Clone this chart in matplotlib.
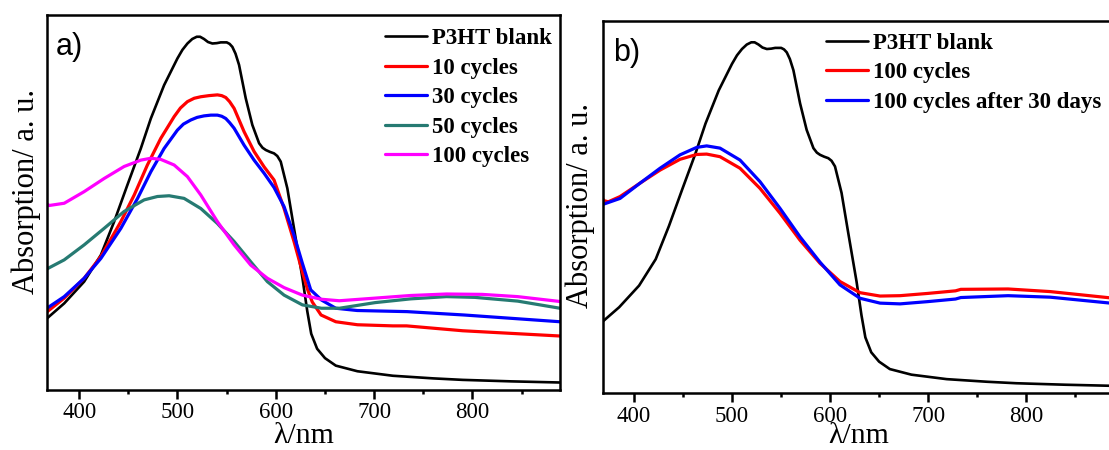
import matplotlib
matplotlib.use("Agg")
import matplotlib.pyplot as plt
from matplotlib.ticker import MultipleLocator
from matplotlib.font_manager import FontProperties

# ---- spectra (wavelength in nm, absorption in arbitrary units) ----
wl_blank = [367, 369.5, 384.8, 405.1, 422.1, 435.6, 449.1, 462.7, 472.9, 486.4, 499.9,
            505, 510.1, 515, 519.6, 523, 527, 531, 535.5, 540, 544, 550.1, 553, 555.8,
            559, 562.6, 569.4, 576.1, 583, 586.5, 589.8, 594, 598.2, 601.5, 605, 611.7,
            618.5, 627, 632, 636, 642, 650, 661, 683, 719, 760, 790, 840, 889]
abs_blank = [0.19, 0.196, 0.231, 0.289, 0.36, 0.449, 0.547, 0.644, 0.724, 0.813, 0.884,
             0.907, 0.924, 0.936, 0.942, 0.942, 0.936, 0.928, 0.924, 0.925, 0.927, 0.927,
             0.923, 0.915, 0.897, 0.867, 0.778, 0.707, 0.658, 0.646, 0.64, 0.635, 0.631,
             0.624, 0.609, 0.538, 0.431, 0.30, 0.21, 0.15, 0.11, 0.085, 0.065, 0.05,
             0.038, 0.031, 0.027, 0.023, 0.020]

wl_10 = [367, 369.5, 384.8, 405.1, 422.1, 442.4, 456, 469.4, 483, 496.6, 503, 510.1, 517,
         523.7, 532, 540.6, 545, 549.1, 553, 557.6, 567.7, 577.9, 588.1, 598.2, 608.4,
         618.5, 627, 632, 637, 646, 661, 683, 719, 733, 790, 889]
abs_10 = [0.208, 0.213, 0.245, 0.298, 0.356, 0.449, 0.52, 0.60, 0.671, 0.729, 0.752, 0.769,
          0.778, 0.782, 0.785, 0.787, 0.785, 0.78, 0.769, 0.751, 0.689, 0.636, 0.595, 0.56,
          0.484, 0.396, 0.315, 0.27, 0.235, 0.2, 0.182, 0.174, 0.171, 0.171, 0.158, 0.144]

wl_30 = [367, 369.5, 384.8, 405.1, 422.1, 442.4, 459.4, 472.9, 486.4, 499.9, 506, 513.5,
         520, 527, 534, 540.6, 545, 549.1, 553, 557.6, 567.7, 577.9, 588.1, 598.2, 608.4,
         618.5, 627, 635.5, 646.4, 661, 682.7, 733.5, 791.6, 889]
abs_30 = [0.218, 0.222, 0.249, 0.298, 0.351, 0.431, 0.511, 0.582, 0.644, 0.693, 0.709, 0.72,
          0.727, 0.731, 0.733, 0.733, 0.73, 0.724, 0.713, 0.698, 0.653, 0.613, 0.578, 0.54,
          0.489, 0.413, 0.338, 0.267, 0.24, 0.218, 0.212, 0.209, 0.2, 0.182]

wl_50 = [367, 369.5, 384.8, 405.1, 425.4, 445.7, 466.1, 479.6, 491.5, 506.7, 523.7, 540.6,
         557.6, 574.5, 591.4, 608.4, 627, 646.4, 664.6, 700.9, 737, 773.5, 802.5, 846, 889]
abs_50 = [0.322, 0.326, 0.347, 0.387, 0.431, 0.476, 0.507, 0.516, 0.518, 0.511, 0.484, 0.444,
          0.396, 0.342, 0.289, 0.253, 0.227, 0.218, 0.218, 0.233, 0.243, 0.249, 0.247, 0.237,
          0.218]

wl_100 = [367, 369.5, 384.8, 405.1, 425.4, 445.7, 462.7, 472.9, 483, 496.6, 510.1, 523.7,
          540.6, 557.6, 574.5, 591.4, 608.4, 627, 646.4, 664.6, 700.9, 737, 773.5, 809.8,
          846, 889]
abs_100 = [0.497, 0.492, 0.498, 0.529, 0.564, 0.596, 0.613, 0.618, 0.615, 0.6, 0.569, 0.52,
           0.449, 0.387, 0.333, 0.298, 0.273, 0.253, 0.242, 0.238, 0.245, 0.252, 0.256, 0.255,
           0.249, 0.236]

wl_100b = [368, 369.3, 373.7, 385.7, 406.1, 426.5, 446.9, 463.9, 474.1, 487.7, 508.1, 528.5,
           549, 569.3, 589.7, 610.1, 630.6, 651, 671.4, 699.4, 728, 733.4, 781.6, 824.5, 890]
abs_100b = [0.522, 0.517, 0.514, 0.528, 0.564, 0.599, 0.628, 0.641, 0.642, 0.635, 0.604, 0.55,
            0.483, 0.411, 0.349, 0.3, 0.27, 0.261, 0.262, 0.268, 0.275, 0.279, 0.28, 0.273,
            0.255]

wl_100_30d = [368, 369.3, 385.7, 406.1, 426.5, 446.9, 463.9, 474.1, 487.7, 508.1, 528.5, 549,
              569.3, 589.7, 610.1, 630.6, 651, 671.4, 699.4, 728, 733.4, 781.6, 824.5, 890]
abs_100_30d = [0.507, 0.508, 0.523, 0.564, 0.604, 0.64, 0.66, 0.664, 0.658, 0.626, 0.568,
               0.496, 0.42, 0.352, 0.291, 0.255, 0.242, 0.24, 0.246, 0.253, 0.257, 0.262,
               0.258, 0.241]

labels_a = ["P3HT blank", "10 cycles", "30 cycles", "50 cycles", "100 cycles"]
labels_b = ["P3HT blank", "100 cycles", "100 cycles after 30 days"]
xticks = [400, 500, 600, 700, 800]

BLACK, RED, BLUE, TEAL, MAGENTA = "#000000", "#ff0000", "#0000ff", "#267a72", "#ff00ff"

serif = "Liberation Serif"
sans = "Liberation Sans"
leg_font = FontProperties(family=serif, weight="bold", size=16.5)
line_kw = dict(solid_joinstyle="round", solid_capstyle="round")

fig = plt.figure(figsize=(11.09, 4.5), dpi=100)
ax_a = fig.add_axes([0.04211, 0.13333, 0.46285, 0.83333])
ax_b = fig.add_axes([0.54346, 0.12600, 0.46132, 0.82800])


def style_axes(ax, xlim):
    ax.set_xlim(*xlim)
    ax.set_ylim(0, 1)
    for sp in ax.spines.values():
        sp.set_linewidth(1.8)
    ax.set_xticks(xticks)
    ax.set_xticklabels([str(t) for t in xticks], fontfamily=serif, fontsize=16.5)
    ax.xaxis.set_minor_locator(MultipleLocator(50))
    ax.tick_params(axis="x", which="major", direction="out", length=6.3, width=1.8,
                   pad=2.5, top=False)
    ax.tick_params(axis="x", which="minor", direction="out", length=3.2, width=1.8,
                   top=False)
    ax.set_yticks([])
    ax.set_xlabel("λ/nm", fontfamily=serif, fontsize=21.5)
    ax.set_ylabel("Absorption/ a. u.", fontfamily=serif, fontsize=22)


# ---- panel a ----
style_axes(ax_a, (367, 889))
ax_a.plot(wl_blank, abs_blank, color=BLACK, lw=1.9, label=labels_a[0], **line_kw)
ax_a.plot(wl_10, abs_10, color=RED, lw=2.3, label=labels_a[1], **line_kw)
ax_a.plot(wl_30, abs_30, color=BLUE, lw=2.3, label=labels_a[2], **line_kw)
ax_a.plot(wl_50, abs_50, color=TEAL, lw=2.3, label=labels_a[3], **line_kw)
ax_a.plot(wl_100, abs_100, color=MAGENTA, lw=2.3, label=labels_a[4], **line_kw)
ax_a.xaxis.set_label_coords(0.5, -0.087)
ax_a.yaxis.set_label_coords(-0.012, 0.53)
ax_a.text(0.018, 0.893, "a)", transform=ax_a.transAxes, fontfamily=sans, fontsize=22,
          ha="left", va="baseline")
ax_a.legend(loc="upper left", bbox_to_anchor=(0.659, 0.965), prop=leg_font, frameon=False,
            borderpad=0, borderaxespad=0, handlelength=1.85, handletextpad=0.2,
            labelspacing=0.37)

# ---- panel b ----
style_axes(ax_b, (368, 890))
ax_b.plot(wl_blank, abs_blank, color=BLACK, lw=1.9, label=labels_b[0], **line_kw)
ax_b.plot(wl_100b, abs_100b, color=RED, lw=2.3, label=labels_b[1], **line_kw)
ax_b.plot(wl_100_30d, abs_100_30d, color=BLUE, lw=2.3, label=labels_b[2], **line_kw)
ax_b.xaxis.set_label_coords(0.5, -0.08)
ax_b.yaxis.set_label_coords(-0.016, 0.505)
ax_b.text(0.0207, 0.892, "b)", transform=ax_b.transAxes, fontfamily=sans, fontsize=22,
          ha="left", va="baseline")
ax_b.legend(loc="upper left", bbox_to_anchor=(0.4365, 0.968), prop=leg_font, frameon=False,
            borderpad=0, borderaxespad=0, handlelength=1.85, handletextpad=0.2,
            labelspacing=0.37)

fig.savefig("out.png", dpi=100)
